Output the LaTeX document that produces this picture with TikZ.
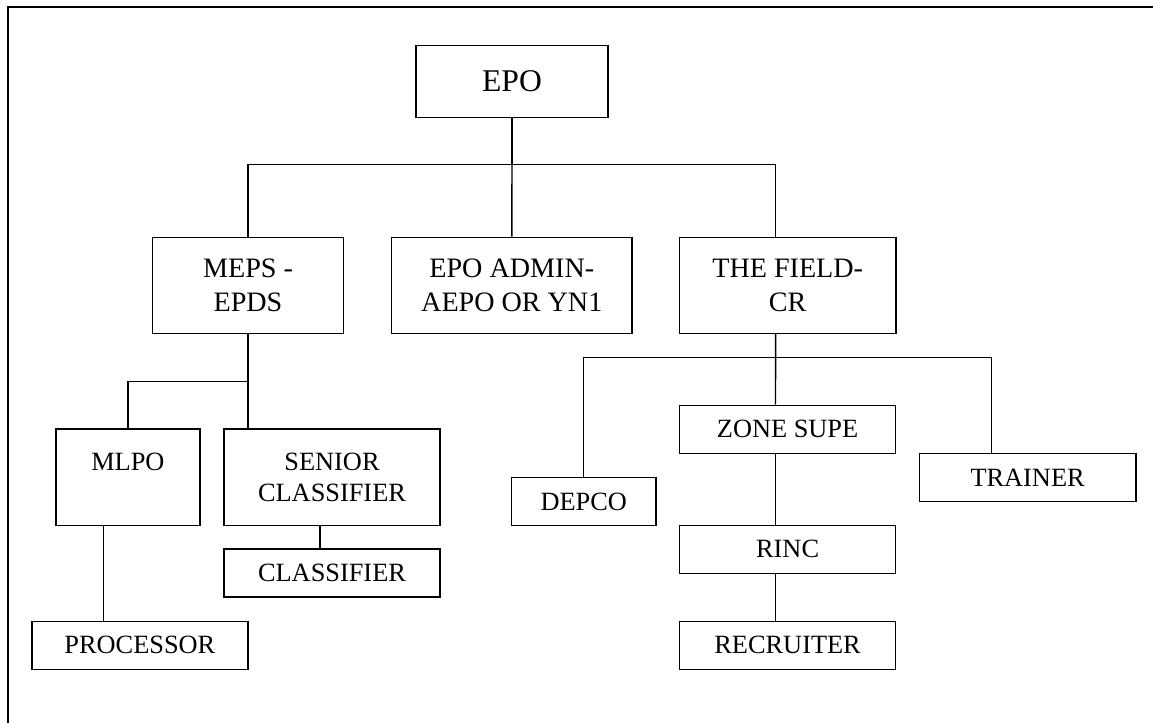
\documentclass[tikz,border=0pt]{standalone}
\usepackage{fontspec}
\setmainfont{Liberation Serif}
\tikzset{box/.style={draw, rectangle, inner sep=0pt, align=center, minimum height=0.96cm, font=\fontsize{15}{17.5}\selectfont}}
\tikzset{big/.style={box, minimum height=1.92cm, font=\fontsize{16}{19}\selectfont}}

\begin{document}
\begin{tikzpicture}[x=0.02cm, y=-0.02cm, line width=0.8pt]
\useasboundingbox (0,0) rectangle (1153,723);
\draw[line width=1pt] (7.7,740) -- (7.7,6.7) -- (1170,6.7);

\node[box, minimum width=3.84cm, minimum height=1.43cm, font=\fontsize{18}{21}\selectfont] (epo) at (512,81.5) {EPO};
\node[big, minimum width=3.83cm] (meps) at (248,285.3) {MEPS -\\EPDS};
\node[big, minimum width=4.81cm] (admin) at (511.8,285.3) {EPO ADMIN-\\AEPO OR YN1};
\node[big, minimum width=4.33cm] (field) at (787.7,285.3) {THE FIELD-\\CR};

\node[box, minimum width=2.88cm, minimum height=1.93cm] (mlpo) at (127.9,477.2) {MLPO\\\mbox{}};
\node[box, minimum width=4.32cm, minimum height=1.93cm] (senior) at (332,477.2) {SENIOR\\CLASSIFIER};
\node[box, minimum width=4.32cm] (classifier) at (332,573) {CLASSIFIER};
\node[box, minimum width=4.32cm] (processor) at (139.9,645.3) {PROCESSOR};

\node[box, minimum width=2.89cm] (depco) at (583.7,501.4) {DEPCO};
\node[box, minimum width=4.32cm] (zone) at (787.6,429.3) {ZONE SUPE};
\node[box, minimum width=4.32cm] (rinc) at (787.6,549.3) {RINC};
\node[box, minimum width=4.32cm] (recruiter) at (787.6,645.3) {RECRUITER};
\node[box, minimum width=4.33cm] (trainer) at (1027.6,477.3) {TRAINER};

\coordinate (bus1) at (512,164.7);
\coordinate (bus2) at (248,381.3);
\coordinate (bus3) at (775.4,357.3);

\draw (epo) -- (bus1);
\draw (meps.north) |- (bus1) -| ([xshift=-0.242cm]field.north);
\draw (bus1) -- (admin.north);

\draw (meps.south) -- (bus2) -- (meps.south |- senior.north);
\draw (bus2) -| (mlpo.north);
\draw ([xshift=-0.24cm]senior.south) -- ([xshift=-0.24cm]classifier.north);
\draw ([xshift=-0.484cm]mlpo.south) -- ([xshift=-0.484cm]mlpo.south |- processor.north);

\draw ([xshift=-0.242cm]field.south) -- ([xshift=-0.242cm]zone.north);
\draw (depco.north) |- (bus3) -| ([xshift=-0.72cm]trainer.north);
\draw ([xshift=-0.242cm]zone.south) -- ([xshift=-0.242cm]rinc.north);
\draw ([xshift=-0.242cm]rinc.south) -- ([xshift=-0.242cm]recruiter.north);
\end{tikzpicture}
\end{document}
